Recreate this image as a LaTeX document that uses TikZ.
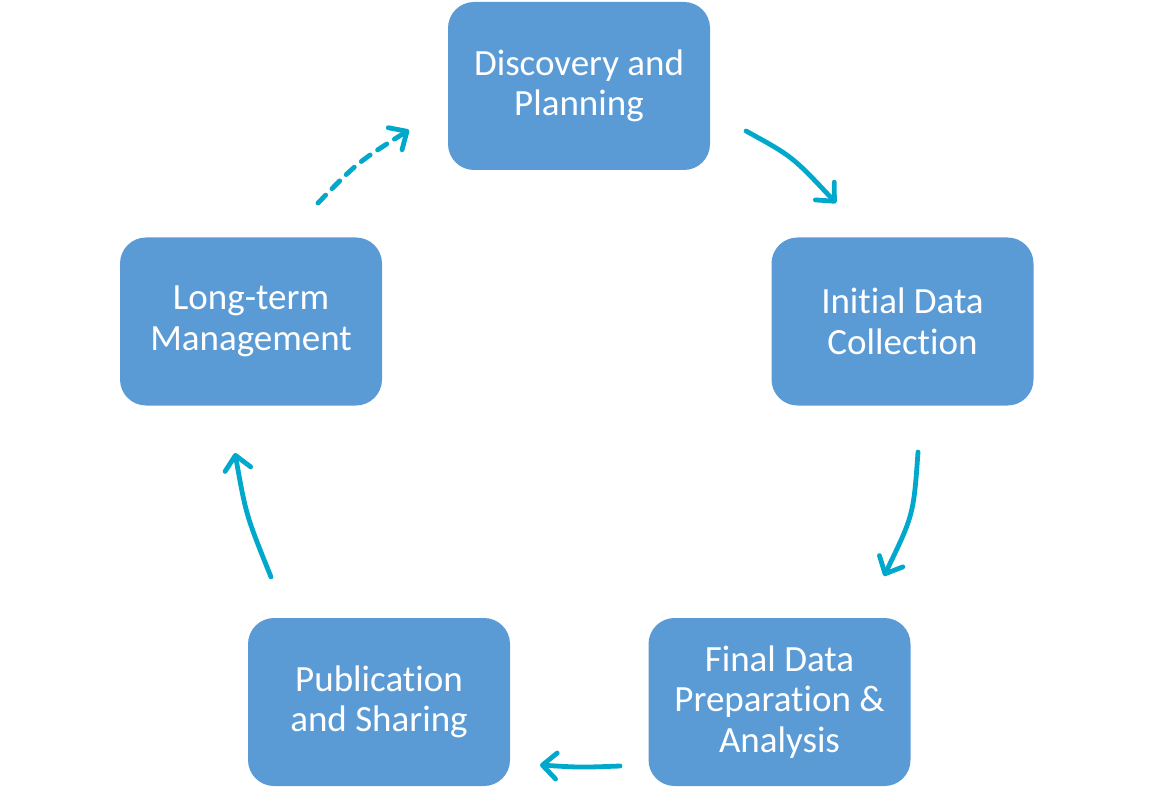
\documentclass[tikz,border=0pt]{standalone}
\usepackage{fontspec}
\setmainfont[Ligatures=NoCommon]{Carlito}
\usetikzlibrary{arrows.meta}
\definecolor{boxblue}{HTML}{5B9BD5}
\definecolor{arrcyan}{HTML}{00A8CC}
\begin{document}
\begin{tikzpicture}[x=1pt,y=-1pt,
  stagebox/.style={fill=boxblue, rounded corners=26pt, minimum width=262pt, minimum height=168pt,
    text=white, align=center, font=\fontsize{37}{40.5}\selectfont, inner sep=0pt},
  cyc/.style={draw=arrcyan, line width=4.8pt, line cap=round,
    -{Straight Barb[round, length=14pt, width=26pt]}}]
\useasboundingbox (0,0) rectangle (1150,799);
\node[stagebox] (disc) at (579,86) {Discovery and\\Planning};
\node[stagebox] (init) at (902.5,321.5) {Initial Data\\Collection};
\node[stagebox] (final) at (779.5,702) {Final Data\\Preparation \&\\Analysis};
\node[stagebox] (pub) at (379,702) {Publication\\and Sharing};
\node[stagebox] (long) at (251,321.5) {Long-term\\Management};
\coordinate (a1s) at (318,203);
\coordinate (a1e) at (409,130);
\coordinate (a2s) at (746,131);
\coordinate (a2e) at (836,203);
\coordinate (a3s) at (918,452);
\coordinate (a3e) at (884,576);
\coordinate (a4s) at (620,766);
\coordinate (a4e) at (540,765);
\coordinate (a5s) at (271,577);
\coordinate (a5e) at (235,453);
\draw[cyc, dash pattern=on 11pt off 9pt] (a1s) .. controls (357.7,162.2) .. (a1e);
\draw[cyc] (a2s) .. controls (792.5,156.5) .. (a2e);
\draw[cyc] (a3s) .. controls (913.5,515) .. (a3e);
\draw[cyc] (a4s) .. controls (580,767.5) .. (a4e);
\draw[cyc] (a5s) .. controls (246,515) .. (a5e);
\end{tikzpicture}
\end{document}
